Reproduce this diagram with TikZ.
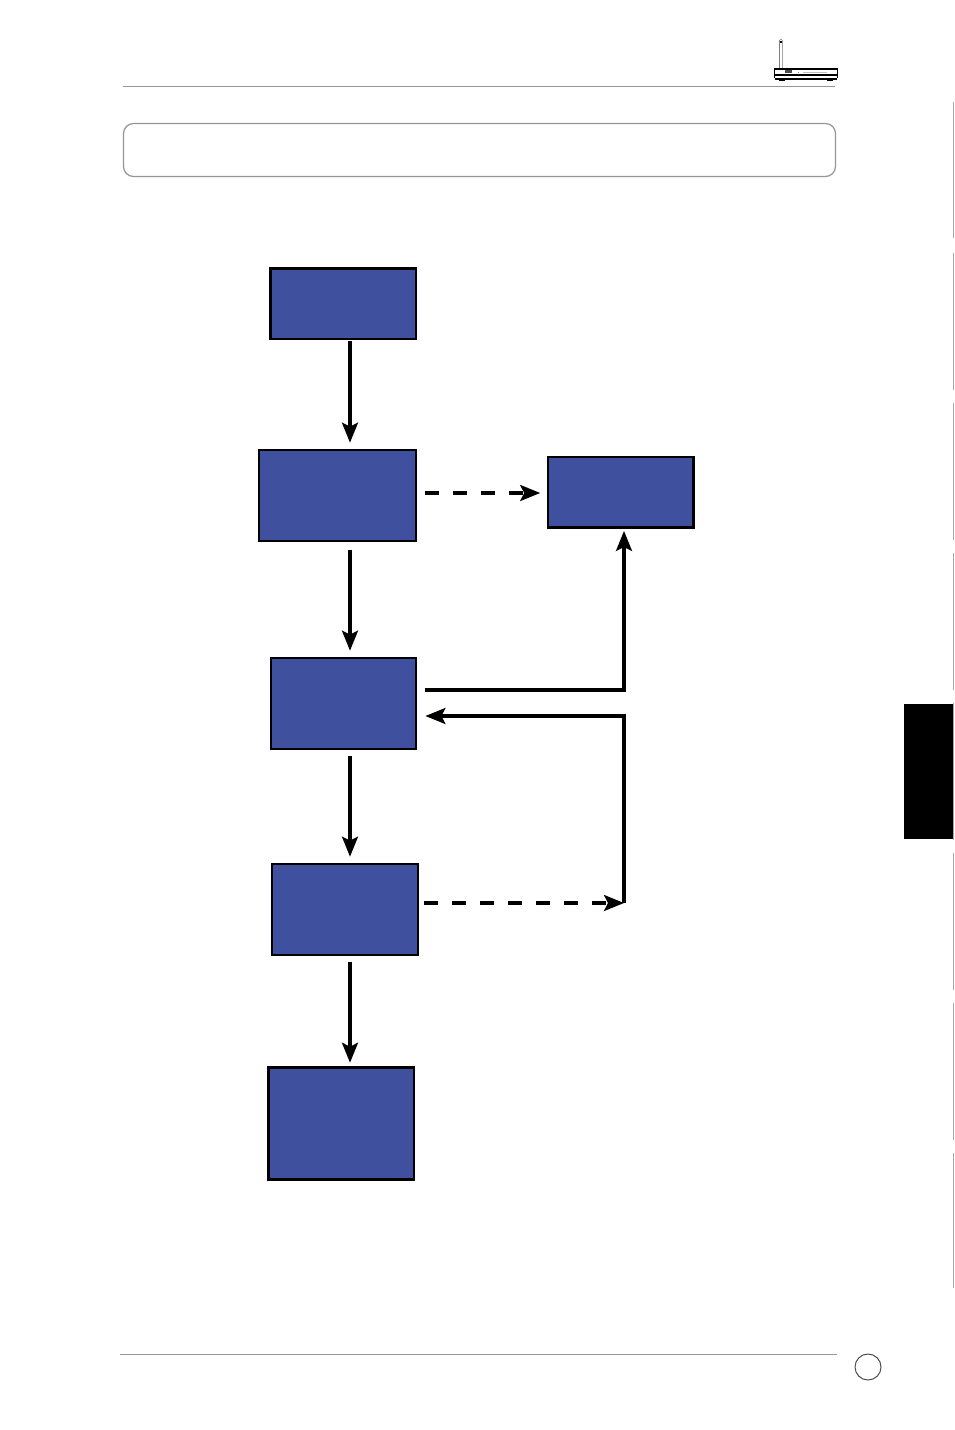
\documentclass[tikz,border=0pt]{standalone}
\usetikzlibrary{arrows.meta,calc}
\definecolor{boxblue}{RGB}{62,80,158}
\definecolor{rulegray}{RGB}{150,150,150}
\tikzset{
  x=0.75pt,y=-0.75pt,
  stepbox/.style={draw=black,fill=boxblue,line width=1.9pt,inner sep=0pt,outer sep=0pt,anchor=north west},
  thinbox/.style={stepbox,line width=1.25pt},
  arr/.style={draw=black,line width=2.3pt,-{Stealth[length=15pt,width=12pt,inset=3pt]}},
  elbow/.style={arr,line join=miter},
  dasharr/.style={arr,dash pattern=on 10.5pt off 10.5pt},
  graybar/.style={draw=rulegray,line width=0.75pt},
  tabline/.style={draw=black!35,line width=0.9pt},
}
\begin{document}
\begin{tikzpicture}
\useasboundingbox (0,0) rectangle (954,1430);
\fill[white] (0,0) rectangle (954,1430);
% page furniture
\coordinate (topl) at (123,86.5);
\coordinate (topr) at (835,86.5);
\draw[graybar] (topl) -- (topr);
\coordinate (botl) at (120,1354.5);
\coordinate (botr) at (837,1354.5);
\draw[graybar] (botl) -- (botr);
\draw[graybar,rounded corners=7.5pt,line width=0.9pt] (123.5,123.5) rectangle (835.5,176.5);
\draw[draw=black!70,line width=0.75pt] (868,1367) circle (13);
% side tabs
\foreach \a/\b in {102/238,253/390,403/540,553/690,703/840,853/990,1003/1140,1153/1288}
  \draw[tabline] (953.5,\a) -- (953.5,\b);
\fill[black] (904,704) rectangle (953,839);
% router icon
\draw[draw=black!50,line width=0.75pt] (779.5,40) -- (779.5,69);
\draw[draw=black!35,line width=0.75pt] (782,40) -- (782,69);
\draw[draw=black!40,line width=0.5pt] (779.5,39) -- (782,39);
\fill[black] (779.5,41.5) rectangle (781.5,43);
\fill[black] (774,68) rectangle (838,70.5);
\fill[black] (774,74) rectangle (838,76.5);
\fill[black] (775,78) rectangle (837,80);
\fill[black] (779,80) rectangle (785,81);
\fill[black] (827,80) rectangle (833,81);
\draw[black,line width=0.5pt] (774.2,68) -- (774.2,78) (837.8,68) -- (837.8,78);
\fill[black!70] (785,70.5) rectangle (792,73);
\fill[black!50] (798,72) rectangle (799,73.2);
\fill[black!25] (803,72) rectangle (827,73.2);
% boxes
\node[stepbox,minimum width=109.2pt,minimum height=52.8pt] (start) at (270.4,268.4) {};
\node[thinbox,minimum width=117.8pt,minimum height=68.2pt] (second) at (259,450) {};
\node[stepbox,minimum width=108.8pt,minimum height=52.8pt] (side) at (548.2,457.2) {};
\node[thinbox,minimum width=108.8pt,minimum height=68.2pt] (third) at (271,658) {};
\node[thinbox,minimum width=109.5pt,minimum height=68.2pt] (fourth) at (272,864) {};
\node[stepbox,minimum width=109.2pt,minimum height=84.2pt] (fifth) at (268.4,1067.4) {};
% axis shared by the vertical arrows, and the loop column
\coordinate (axis) at (350,0);
\coordinate (elbowA) at (624,690);
\coordinate (elbowB) at (624,716);
\coordinate (elbowC) at (624,903);
% vertical arrows
\draw[arr,shorten <=1.5pt,shorten >=5.5pt] (start.south -| axis) -- (second.north -| axis);
\draw[arr,shorten <=6.5pt,shorten >=5.5pt] (second.south -| axis) -- (third.north -| axis);
\draw[arr,shorten <=5.5pt,shorten >=5.5pt] (third.south -| axis) -- (fourth.north -| axis);
\draw[arr,shorten <=5pt,shorten >=3.5pt] (fourth.south -| axis) -- (fifth.north -| axis);
% dashed to side box
\coordinate (dashy) at (0,493);
\draw[dasharr,shorten <=7pt,shorten >=6pt] (second.east |- dashy) -- (side.west |- dashy);
% third to side
\draw[elbow,shorten <=7pt,shorten >=2.5pt] (third.east |- elbowA) -- (elbowA) -- (side.south -| elbowA);
% loop back
\draw[elbow,shorten >=7pt,shorten <=-1.5pt] (elbowB) -- (third.east |- elbowB);
\draw[draw=black,line width=3pt,shorten >=-1.15pt] (elbowC) -- (elbowB);
% dashed from fourth
\draw[dasharr,shorten <=4.5pt] (fourth.east |- elbowC) -- (elbowC);
\end{tikzpicture}
\end{document}
